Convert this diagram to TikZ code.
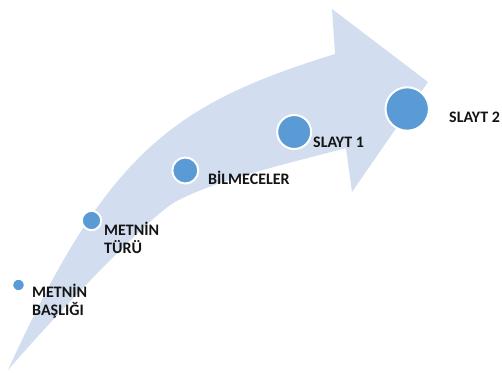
\documentclass[tikz,border=0pt]{standalone}
\usepackage{fontspec}
\setmainfont{Carlito}
\definecolor{arrowfill}{RGB}{210,222,239}
\definecolor{dotblue}{RGB}{91,155,213}
\definecolor{labeltext}{RGB}{20,20,20}
\begin{document}
\begin{tikzpicture}[x=1pt,y=-1pt,
  dot/.style={circle,fill=dotblue,draw=white,line width=2pt,inner sep=0pt},
  lbl/.style={anchor=base west,inner sep=0pt,font=\fontsize{16}{18}\selectfont\bfseries,text=labeltext,align=left}]
\useasboundingbox (0,0) rectangle (502,372);
% curved arrow
\fill[arrowfill]
  (8,370) .. controls (108,150) and (175,103.6) .. (335,54)
  -- (332,9) -- (428,82) -- (352,192) -- (346,148)
  .. controls (290,163) and (215,180) .. (175,202)
  .. controls (150,216) and (60,310) .. (8,370)
  -- cycle;
% dots
\node[dot,minimum size=12.6pt] (c1) at (18.5,285) {};
\node[dot,minimum size=19.4pt] (c2) at (91.5,220.5) {};
\node[dot,minimum size=26pt] (c3) at (185.3,170.5) {};
\node[dot,minimum size=34pt] (c4) at (294.2,132) {};
\node[dot,minimum size=43.4pt] (c5) at (407.2,109) {};
% labels
\node[lbl] (t1) at (32,315) {METNİN\\BAŞLIĞI};
\node[lbl] (t2) at (104,253) {METNİN\\TÜRÜ};
\node[lbl] (t3) at (208,184) {BİLMECELER};
\node[lbl] (t4) at (313,147) {SLAYT 1};
\node[lbl] (t5) at (449,122.5) {SLAYT 2};
\end{tikzpicture}
\end{document}
